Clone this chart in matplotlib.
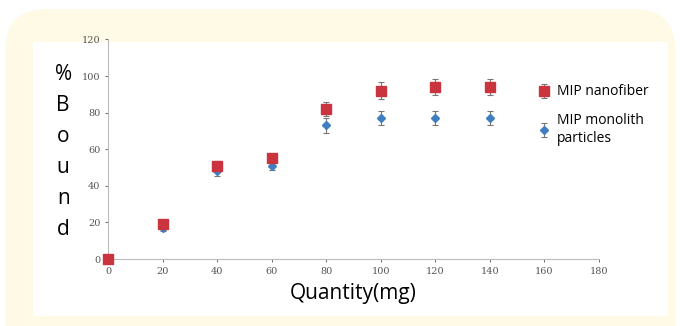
import matplotlib
matplotlib.use("Agg")
import matplotlib.pyplot as plt
from matplotlib.patches import FancyBboxPatch, Rectangle

# data
quantity = [0, 20, 40, 60, 80, 100, 120, 140]
nanofiber = [0, 19, 51, 55, 82, 92, 94, 94]
nanofiber_err = [0, 1.5, 2.5, 2.5, 4, 4.5, 4.5, 4.5]
monolith = [0, 17, 48, 51, 73, 77, 77, 77]
monolith_err = [0, 1.5, 2.5, 2.5, 4, 4, 4, 4]
ylabel_letters = ["%", "B", "o", "u", "n", "d"]

fig = plt.figure(figsize=(6.8, 3.26), dpi=100)

# yellow card with rounded corners and white panel on it
card = FancyBboxPatch((0.008, -0.2), 0.985, 1.172, boxstyle="round,pad=0,rounding_size=0.06",
                      transform=fig.transFigure, facecolor="#fefae6", edgecolor="none",
                      mutation_aspect=2.08, zorder=-10)
fig.patches.append(card)
panel = Rectangle((0.0485, 0.031), 0.934, 0.84, transform=fig.transFigure,
                  facecolor="white", edgecolor="none", zorder=-9)
fig.patches.append(panel)

ax = fig.add_axes([0.1588, 0.2055, 0.7221, 0.6736])
ax.set_facecolor("none")

ax.errorbar(quantity, nanofiber, yerr=nanofiber_err, fmt="s", color="#c9343f",
            markersize=6.5, ecolor="#777777", elinewidth=0.8, capsize=2, capthick=0.8,
            label="MIP nanofiber", zorder=3, clip_on=False)
ax.errorbar(quantity, monolith, yerr=monolith_err, fmt="D", color="#3f7fc1",
            markersize=4.5, ecolor="#777777", elinewidth=0.8, capsize=2, capthick=0.8,
            label="MIP monolith\nparticles", zorder=2, clip_on=False)

ax.set_xlim(0, 180)
ax.set_ylim(0, 120)
ax.set_xticks(range(0, 181, 20))
ax.set_yticks(range(0, 121, 20))
ax.tick_params(labelsize=7, colors="#555555", length=2, width=0.6)
for lbl in ax.get_xticklabels() + ax.get_yticklabels():
    lbl.set_family("DejaVu Serif")
for side in ["top", "right"]:
    ax.spines[side].set_visible(False)
for side in ["left", "bottom"]:
    ax.spines[side].set_color("#bbbbbb")
    ax.spines[side].set_linewidth(0.8)

ax.set_xlabel("Quantity(mg)", fontsize=15, fontfamily="Open Sans", labelpad=5)

# stacked letters for the y label
for i, ch in enumerate(ylabel_letters):
    fig.text(0.093, 0.77 - i * 0.095, ch, fontsize=15, fontfamily="Open Sans",
             ha="center", va="center")

ax.legend(loc="upper left", bbox_to_anchor=(0.782, 0.758), bbox_transform=fig.transFigure,
          frameon=False, handlelength=1.0, handletextpad=0.4,
          labelspacing=1.0, borderaxespad=0, prop={"family": "Open Sans", "size": 10})

fig.savefig("out.png", dpi=100)
